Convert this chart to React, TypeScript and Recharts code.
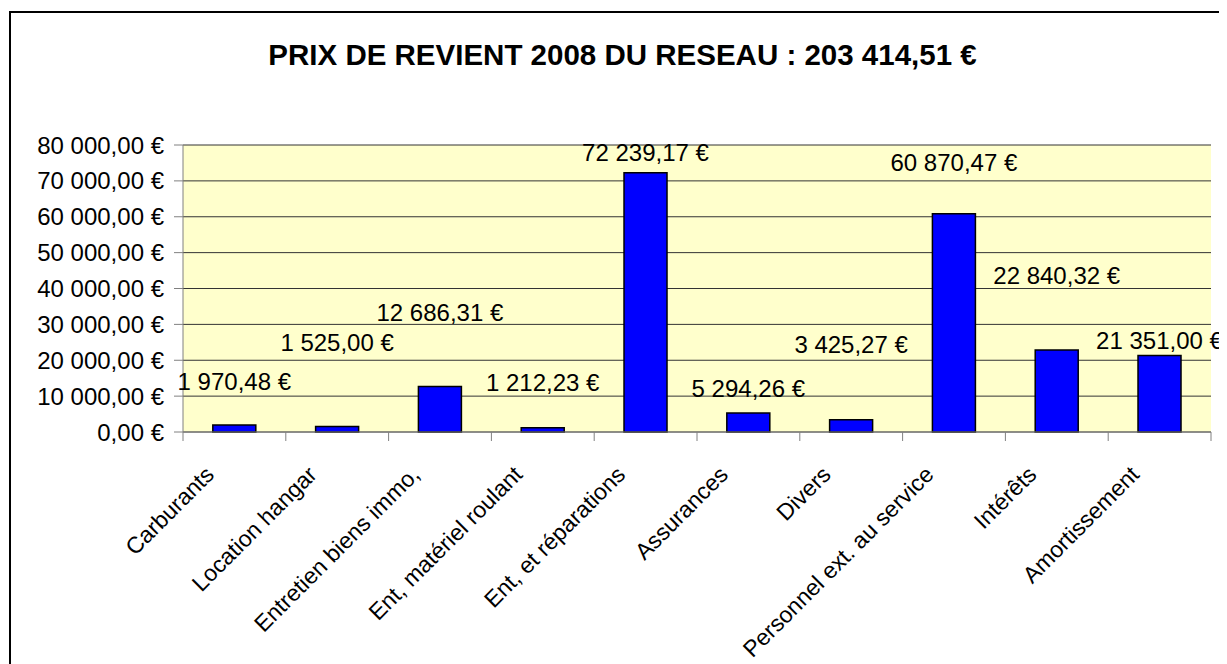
import { Bar, BarChart, CartesianGrid, LabelList, XAxis, YAxis } from "recharts"

const categories = [
    "Carburants",
    "Location hangar",
    "Entretien biens immo,",
    "Ent, matériel roulant",
    "Ent, et réparations",
    "Assurances",
    "Divers",
    "Personnel ext. au service",
    "Intérêts",
    "Amortissement",
]

const costs = [1970.48, 1525.0, 12686.31, 1212.23, 72239.17, 5294.26, 3425.27, 60870.47, 22840.32, 21351.0]

const yTicks = [0, 10000, 20000, 30000, 40000, 50000, 60000, 70000, 80000]

// how far each data label sits above its bar (the labels were moved by hand in the original)
const labelLift = [43, 84, 74, 45, 20, 25, 75, 51, 75, 15]

const W = 1219
const H = 656
const LEFT = 175
const RIGHT = 16
const STEP = (W - LEFT - RIGHT) / categories.length
const FONT = "'Liberation Sans', Arial, sans-serif"

const euro = (v: number) => {
    const [i, d] = v.toFixed(2).split(".")
    return i.replace(/\B(?=(\d{3})+(?!\d))/g, " ") + "," + d + " €"
}

const data = categories.map((name, i) => ({ name, value: costs[i] }))

const XTick = (props: any) => {
    const { x, y, payload, index } = props
    const left = x - STEP / 2
    const tx = x - 19
    const ty = y + 44
    return (
        <g>
            <line x1={left} x2={left} y1={y} y2={y + 9} stroke="#808080" />
            {index === categories.length - 1 && (
                <line x1={x + STEP / 2} x2={x + STEP / 2} y1={y} y2={y + 9} stroke="#808080" />
            )}
            <text
                x={tx}
                y={ty}
                transform={`rotate(-45, ${tx}, ${ty})`}
                textAnchor="end"
                fontSize={23}
                fontFamily={FONT}
                fill="#000"
            >
                {payload.value}
            </text>
        </g>
    )
}

const ValueLabel = (props: any) => {
    const { x, y, width, value, index } = props
    return (
        <text
            x={x + width / 2}
            y={y - labelLift[index]}
            textAnchor="middle"
            dominantBaseline="central"
            fontSize={24}
            fontFamily={FONT}
            fill="#000"
        >
            {euro(value)}
        </text>
    )
}

export default function App() {
    return (
        <div style={{ position: "relative", width: W, height: H, fontFamily: FONT }}>
            <div
                style={{
                    position: "absolute",
                    left: 1,
                    top: 3,
                    width: W,
                    height: H,
                    borderLeft: "2px solid #000",
                    borderTop: "2px solid #000",
                }}
            />
            <div
                style={{
                    position: "absolute",
                    left: 0,
                    top: 30,
                    width: W + 10,
                    textAlign: "center",
                    fontSize: 29.5,
                    fontWeight: "bold",
                    color: "#000",
                }}
            >
                PRIX DE REVIENT 2008 DU RESEAU : 203 414,51 €
            </div>
            <BarChart
                width={W}
                height={H}
                data={data}
                margin={{ top: 137, right: RIGHT, left: 0, bottom: 0 }}
                barCategoryGap="29%"
                style={{ position: "absolute", left: 0, top: 0 }}
            >
                <CartesianGrid vertical={false} fill="#FFFFCC" stroke="#333" horizontalValues={yTicks} />
                <XAxis
                    dataKey="name"
                    height={232}
                    interval={0}
                    tickSize={0}
                    tickMargin={0}
                    tickLine={false}
                    axisLine={{ stroke: "#808080" }}
                    tick={<XTick />}
                />
                <YAxis
                    width={LEFT}
                    domain={[0, 80000]}
                    ticks={yTicks}
                    interval={0}
                    tickFormatter={euro}
                    tickSize={9}
                    tickMargin={10}
                    tickLine={{ stroke: "#808080" }}
                    axisLine={{ stroke: "#808080" }}
                    tick={{ fontSize: 24, fill: "#000", fontFamily: FONT }}
                />
                <YAxis
                    yAxisId="edge"
                    orientation="right"
                    width={0}
                    tick={false}
                    tickLine={false}
                    axisLine={{ stroke: "#808080" }}
                />
                <Bar dataKey="value" fill="#0000FF" stroke="#000" strokeWidth={1.5} isAnimationActive={false}>
                    <LabelList dataKey="value" content={<ValueLabel />} />
                </Bar>
            </BarChart>
        </div>
    )
}
